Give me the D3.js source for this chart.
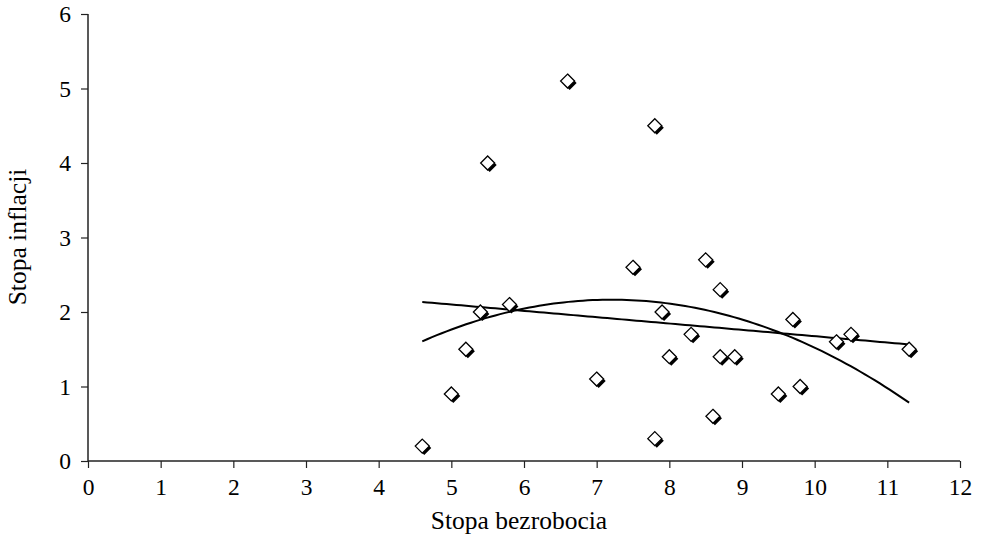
<!DOCTYPE html>
<html>
<head>
<meta charset="utf-8">
<script src="https://cdn.jsdelivr.net/npm/d3@7"></script>
<style>
  html, body { margin: 0; padding: 0; background: #fff; }
  svg { display: block; }
  text { font-family: "Liberation Serif", "Times New Roman", serif; fill: #000; }
</style>
</head>
<body>
<script>
// Data
const unemployment = [4.6, 5.0, 5.2, 5.4, 5.5, 5.8, 6.6, 7.0, 7.5, 7.8, 7.8, 7.9, 8.0, 8.3, 8.5, 8.6, 8.7, 8.7, 8.9, 9.5, 9.7, 9.8, 10.3, 10.5, 11.3];
const inflation    = [0.2, 0.9, 1.5, 2.0, 4.0, 2.1, 5.1, 1.1, 2.6, 4.5, 0.3, 2.0, 1.4, 1.7, 2.7, 0.6, 2.3, 1.4, 1.4, 0.9, 1.9, 1.0, 1.6, 1.7, 1.5];
const xTicks = [0, 1, 2, 3, 4, 5, 6, 7, 8, 9, 10, 11, 12];
const yTicks = [0, 1, 2, 3, 4, 5, 6];
const xTitle = "Stopa bezrobocia";
const yTitle = "Stopa inflacji";

const W = 981, H = 540;
const svg = d3.select("body").append("svg").attr("width", W).attr("height", H);

const x = d3.scaleLinear().domain([0, 12]).range([88, 960]);
const y = d3.scaleLinear().domain([0, 6]).range([461, 14]);

// Least squares polynomial fit (degree n) via normal equations
function polyfit(xs, ys, deg) {
  const n = deg + 1;
  const A = Array.from({length: n}, () => new Array(n + 1).fill(0));
  for (let k = 0; k < xs.length; k++) {
    for (let i = 0; i < n; i++) {
      for (let j = 0; j < n; j++) A[i][j] += Math.pow(xs[k], i + j);
      A[i][n] += ys[k] * Math.pow(xs[k], i);
    }
  }
  for (let i = 0; i < n; i++) {
    let p = i;
    for (let r = i + 1; r < n; r++) if (Math.abs(A[r][i]) > Math.abs(A[p][i])) p = r;
    [A[i], A[p]] = [A[p], A[i]];
    for (let r = 0; r < n; r++) {
      if (r === i) continue;
      const f = A[r][i] / A[i][i];
      for (let c = i; c <= n; c++) A[r][c] -= f * A[i][c];
    }
  }
  return A.map((row, i) => row[n] / row[i]);
}
const evalPoly = (c, v) => c.reduce((s, ci, i) => s + ci * Math.pow(v, i), 0);

const xmin = d3.min(unemployment), xmax = d3.max(unemployment);
const lin = polyfit(unemployment, inflation, 1);
const quad = polyfit(unemployment, inflation, 2);
const samples = d3.range(0, 101).map(i => xmin + (xmax - xmin) * i / 100);

const line = d3.line().x(d => x(d[0])).y(d => y(d[1]));

// Axes
const xAxis = svg.append("g").attr("transform", `translate(0,${y(0)})`)
  .call(d3.axisBottom(x).tickValues(xTicks).tickSize(7).tickPadding(10).tickFormat(d3.format("d")));
const yAxis = svg.append("g").attr("transform", `translate(${x(0)},0)`)
  .call(d3.axisLeft(y).tickValues(yTicks).tickSize(7).tickPadding(10).tickFormat(d3.format("d")));
[xAxis, yAxis].forEach(g => {
  g.select(".domain").attr("stroke", "#222").attr("stroke-width", 1.5);
  g.selectAll(".tick line").attr("stroke", "#222").attr("stroke-width", 1.2);
  g.selectAll(".tick text").style("font-family", "'Liberation Serif', 'Times New Roman', serif").style("font-size", "23.5px").attr("fill", "#000");
});
xAxis.select(".domain").attr("d", `M${x(0)},0H${x(12)}`);
yAxis.select(".domain").attr("d", `M0,${y(0)}V${y(6)}`);

// Trend lines
svg.append("path").datum(samples.map(v => [v, evalPoly(lin, v)]))
  .attr("d", line).attr("fill", "none").attr("stroke", "#000").attr("stroke-width", 2);
svg.append("path").datum(samples.map(v => [v, evalPoly(quad, v)]))
  .attr("d", line).attr("fill", "none").attr("stroke", "#000").attr("stroke-width", 2);

// Markers
const pts = unemployment.map((u, i) => [u, inflation[i]]);
const r = 7;
const diamond = `M0,${-r}L${r},0L0,${r}L${-r},0Z`;
const gp = svg.append("g");
gp.selectAll("path.shadow").data(pts).join("path")
  .attr("class", "shadow")
  .attr("d", diamond)
  .attr("transform", d => `translate(${x(d[0]) + 2},${y(d[1]) + 2})`)
  .attr("fill", "#000");
gp.selectAll("path.mark").data(pts).join("path")
  .attr("class", "mark")
  .attr("d", diamond)
  .attr("transform", d => `translate(${x(d[0])},${y(d[1])})`)
  .attr("fill", "#fff").attr("stroke", "#000").attr("stroke-width", 1.3);

// Titles
svg.append("text").attr("x", 519).attr("y", 529).attr("text-anchor", "middle")
  .style("font-size", "25.5px").text(xTitle);
svg.append("text").attr("transform", `translate(26,237) rotate(-90)`).attr("text-anchor", "middle")
  .style("font-size", "25.5px").text(yTitle);
</script>
</body>
</html>
